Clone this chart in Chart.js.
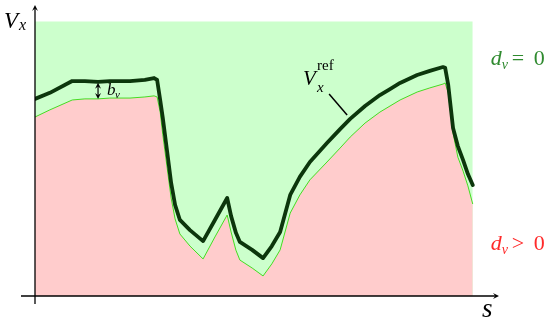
<!DOCTYPE html>
<html><head><meta charset="utf-8">
<style>html,body{margin:0;padding:0;background:#fff}#wrap{width:550px;height:323px;position:relative}</style>
<script src="https://cdn.jsdelivr.net/npm/chart.js@4/dist/chart.umd.min.js"></script>
</head><body><div id="wrap"><canvas id="c" width="550" height="323"></canvas></div>
<script>
// distance along path (normalised)
const s = [0.000, 0.034, 0.085, 0.114, 0.144, 0.171, 0.217, 0.251, 0.272, 0.279,
           0.286, 0.292, 0.302, 0.311, 0.320, 0.331, 0.354, 0.384, 0.411, 0.439,
           0.448, 0.459, 0.468, 0.496, 0.521, 0.541, 0.560, 0.583, 0.605, 0.628,
           0.667, 0.697, 0.720, 0.754, 0.788, 0.811, 0.834, 0.873, 0.902, 0.932,
           0.937, 0.944, 0.955, 0.966, 0.978, 0.989, 1.000];
// reference speed V_x^ref (thick dark line)
const vRef = [0.718, 0.740, 0.783, 0.783, 0.780, 0.783, 0.783, 0.787, 0.794, 0.787,
              0.714, 0.648, 0.525, 0.412, 0.332, 0.277, 0.240, 0.200, 0.277, 0.357,
              0.291, 0.230, 0.197, 0.168, 0.138, 0.182, 0.233, 0.368, 0.434, 0.488,
              0.557, 0.608, 0.645, 0.692, 0.732, 0.754, 0.776, 0.805, 0.820, 0.834,
              0.831, 0.769, 0.612, 0.546, 0.495, 0.444, 0.404];
// lower boundary V_x^ref - b_v (thin green line)
const vLower = [0.652, 0.678, 0.714, 0.718, 0.718, 0.721, 0.721, 0.725, 0.729, 0.725,
                0.670, 0.587, 0.466, 0.357, 0.281, 0.226, 0.182, 0.135, 0.215, 0.295,
                0.233, 0.167, 0.131, 0.102, 0.073, 0.117, 0.168, 0.302, 0.368, 0.423,
                0.488, 0.539, 0.579, 0.630, 0.670, 0.692, 0.714, 0.743, 0.758, 0.772,
                0.776, 0.740, 0.594, 0.506, 0.455, 0.401, 0.335];
// extent of the shaded region d_v = 0
const regionS = [0.0, 1.0];
const regionV = [1.0, 1.0];
// axis extents
const sMax = 1.06, vMax = 1.06;
// annotation anchors
const bvIndex = 4;
const refLabelAnchor = {s: 0.713, v: 0.659};

const toPts = (xs, ys) => xs.map((x, i) => ({x: x, y: ys[i]}));

const serif = '"Liberation Serif", "DejaVu Serif", serif';

function arrowHead(ctx, x, y, dx, dy) {
  const len = 6, w = 3;
  const n = Math.hypot(dx, dy); dx /= n; dy /= n;
  ctx.beginPath();
  ctx.moveTo(x, y);
  ctx.lineTo(x - dx * len - dy * w, y - dy * len + dx * w);
  ctx.lineTo(x - dx * len * 0.6, y - dy * len * 0.6);
  ctx.lineTo(x - dx * len + dy * w, y - dy * len - dx * w);
  ctx.closePath();
  ctx.fill();
}

const decor = {
  id: 'decor',
  afterDraw(chart) {
    const ctx = chart.ctx;
    const xs = chart.scales.x, ys = chart.scales.y;
    const x0 = xs.getPixelForValue(0), y0 = ys.getPixelForValue(0);
    const xEnd = xs.getPixelForValue(sMax), yEnd = ys.getPixelForValue(vMax);
    ctx.save();
    ctx.strokeStyle = '#000'; ctx.fillStyle = '#000'; ctx.lineWidth = 1.3;
    // y axis
    ctx.beginPath(); ctx.moveTo(x0, y0 + 8); ctx.lineTo(x0, yEnd + 2); ctx.stroke();
    arrowHead(ctx, x0, yEnd, 0, -1);
    // x axis
    ctx.beginPath(); ctx.moveTo(x0 - 14, y0); ctx.lineTo(xEnd - 2, y0); ctx.stroke();
    arrowHead(ctx, xEnd, y0, 1, 0);

    // axis labels
    ctx.textBaseline = 'alphabetic'; ctx.textAlign = 'left';
    ctx.font = 'italic 23px ' + serif;
    ctx.fillText('V', x0 - 31, yEnd + 23);
    ctx.font = 'italic 16px ' + serif;
    ctx.fillText('x', x0 - 16, yEnd + 25);
    ctx.font = 'italic 27px ' + serif;
    ctx.fillText('s', xEnd - 17, y0 + 21);

    // region labels
    const rx = xs.getPixelForValue(regionS[1]);
    ctx.fillStyle = '#2f8a2f';
    ctx.font = 'italic 22px ' + serif; ctx.fillText('d', rx + 18, 65);
    ctx.font = 'italic 14px ' + serif; ctx.fillText('v', rx + 29, 69);
    ctx.font = '22px ' + serif; ctx.fillText('=', rx + 39, 65); ctx.fillText('0', rx + 61, 65);
    ctx.fillStyle = '#ff2a2a';
    ctx.font = 'italic 22px ' + serif; ctx.fillText('d', rx + 18, 250);
    ctx.font = 'italic 14px ' + serif; ctx.fillText('v', rx + 29, 254);
    ctx.font = '22px ' + serif; ctx.fillText('>', rx + 39, 250); ctx.fillText('0', rx + 61, 250);

    // b_v double arrow
    ctx.fillStyle = '#000'; ctx.strokeStyle = '#000'; ctx.lineWidth = 1.2;
    const bx = xs.getPixelForValue(s[bvIndex]);
    const bTop = ys.getPixelForValue(vRef[bvIndex]) + 1;
    const bBot = ys.getPixelForValue(vLower[bvIndex]);
    ctx.beginPath(); ctx.moveTo(bx, bTop + 3); ctx.lineTo(bx, bBot - 3); ctx.stroke();
    arrowHead(ctx, bx, bTop, 0, -1);
    arrowHead(ctx, bx, bBot, 0, 1);
    ctx.font = 'italic 17px ' + serif; ctx.fillText('b', bx + 9, bBot - 4);
    ctx.font = 'italic 11px ' + serif; ctx.fillText('v', bx + 17, bBot - 1);

    // V_x^ref label with leader
    const ax = xs.getPixelForValue(refLabelAnchor.s), ay = ys.getPixelForValue(refLabelAnchor.v);
    ctx.lineWidth = 1.5;
    ctx.beginPath(); ctx.moveTo(ax, ay); ctx.lineTo(ax - 18, ay - 21); ctx.stroke();
    ctx.font = 'italic 21px ' + serif; ctx.fillText('V', ax - 44, ay - 30);
    ctx.font = '15px ' + serif; ctx.fillText('ref', ax - 30, ay - 45);
    ctx.font = 'italic 15px ' + serif; ctx.fillText('x', ax - 30, ay - 23);
    ctx.restore();
  }
};

new Chart(document.getElementById('c'), {
  type: 'line',
  data: {
    datasets: [
      { label: 'V_x^ref', data: toPts(s, vRef), borderColor: '#0c360c', borderWidth: 3.8,
        pointRadius: 0, fill: false, tension: 0,
        borderJoinStyle: 'round', borderCapStyle: 'round' },
      { label: 'lower', data: toPts(s, vLower), borderColor: '#44dd22', borderWidth: 1,
        pointRadius: 0, fill: 'origin', backgroundColor: '#ffcccc', tension: 0 },
      { label: 'region', data: toPts(regionS, regionV), borderWidth: 0, borderColor: 'rgba(0,0,0,0)',
        pointRadius: 0, fill: 'origin', backgroundColor: '#ccffcc' }
    ]
  },
  options: {
    responsive: false, animation: false, devicePixelRatio: 1,
    layout: { padding: { left: 35, right: 51, top: 5, bottom: 27 } },
    scales: {
      x: { type: 'linear', min: 0, max: sMax, display: false },
      y: { type: 'linear', min: 0, max: vMax, display: false }
    },
    plugins: { legend: { display: false }, tooltip: { enabled: false } }
  },
  plugins: [decor]
});
</script></body></html>
